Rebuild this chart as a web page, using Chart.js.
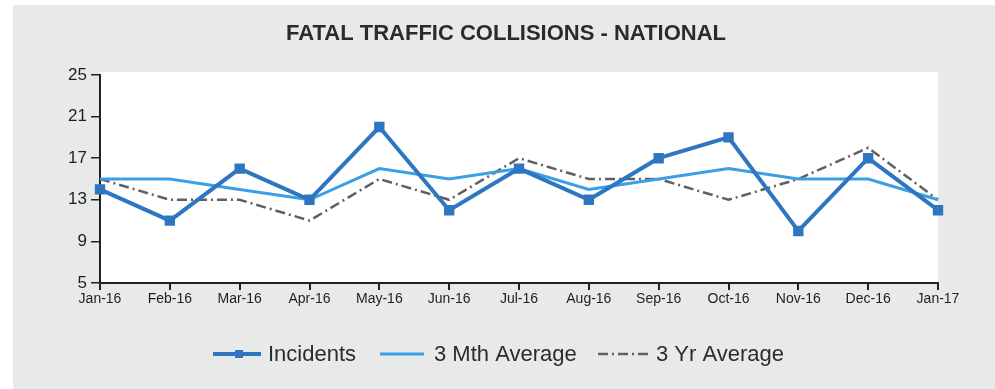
<!DOCTYPE html>
<html>
<head>
<meta charset="utf-8">
<script src="https://cdn.jsdelivr.net/npm/chart.js@4/dist/chart.umd.min.js"></script>
<style>
  html, body { margin: 0; padding: 0; background: #fff; }
  #wrap { position: absolute; left: 13px; top: 5px; width: 982px; height: 384px; background: #e8eae9; }
  canvas { position: absolute; left: -13px; top: -5px; }
</style>
</head>
<body>
<div id="wrap"><canvas id="graph" width="995" height="389"></canvas></div>
<script>
// months on the x axis
const months = ['Jan-16', 'Feb-16', 'Mar-16', 'Apr-16', 'May-16', 'Jun-16', 'Jul-16',
  'Aug-16', 'Sep-16', 'Oct-16', 'Nov-16', 'Dec-16', 'Jan-17'];

// values
const incidents = [14, 11, 16, 13, 20, 12, 16, 13, 17, 19, 10, 17, 12];
const threeMonthAvg = [15, 15, 14, 13, 16, 15, 16, 14, 15, 16, 15, 15, 13];
const threeYearAvg = [15, 13, 13, 11, 15, 13, 17, 15, 15, 13, 15, 18, 13];

const yTicks = [5, 9, 13, 17, 21, 25];
const titleText = 'FATAL TRAFFIC COLLISIONS - NATIONAL';

const FONT = "'Liberation Sans', Arial, sans-serif";

// white plot area, title and legend drawn by hand
const decor = {
  id: 'decor',
  beforeDraw(chart) {
    const {ctx, chartArea: a} = chart;
    ctx.save();
    ctx.fillStyle = '#ffffff';
    ctx.fillRect(a.left, a.top - 3, a.right - a.left, a.bottom - a.top + 3);
    ctx.restore();
  },
  afterDraw(chart) {
    const ctx = chart.ctx;
    ctx.save();
    // title
    ctx.fillStyle = '#2b2b2b';
    ctx.font = 'bold 22px ' + FONT;
    ctx.textAlign = 'center';
    ctx.textBaseline = 'middle';
    ctx.fillText(titleText, 506, 34);

    // legend
    const items = [
      {ds: 0, x1: 213, x2: 261, tx: 268},
      {ds: 1, x1: 380, x2: 424, tx: 434},
      {ds: 2, x1: 598, x2: 648, tx: 656}
    ];
    const y = 354;
    ctx.font = '22px ' + FONT;
    ctx.textAlign = 'left';
    items.forEach(function(it) {
      const d = chart.data.datasets[it.ds];
      ctx.strokeStyle = d.borderColor;
      ctx.lineWidth = d.borderWidth;
      ctx.setLineDash(d.borderDash || []);
      ctx.beginPath();
      ctx.moveTo(it.x1, y);
      ctx.lineTo(it.x2, y);
      ctx.stroke();
      ctx.setLineDash([]);
      if (d.pointRadius > 0) {
        ctx.fillStyle = d.pointBackgroundColor;
        const r = 4;
        const mx = (it.x1 + it.x2) / 2 + 2;
        ctx.fillRect(mx - r, y - r, 2 * r, 2 * r);
      }
      ctx.fillStyle = '#2b2b2b';
      ctx.fillText(d.label, it.tx, y + 1);
    });
    ctx.restore();
  }
};

const chart = new Chart(document.getElementById('graph').getContext('2d'), {
  type: 'line',
  data: {
    labels: months,
    datasets: [
      {
        label: 'Incidents',
        data: incidents,
        borderColor: '#2e76c0',
        backgroundColor: '#2e76c0',
        pointBackgroundColor: '#2e76c0',
        pointBorderColor: '#2e76c0',
        pointStyle: 'rect',
        pointRadius: 4.5,
        borderWidth: 4,
        tension: 0,
        clip: false,
        order: 0
      },
      {
        label: '3 Mth Average',
        data: threeMonthAvg,
        borderColor: '#3a9fe6',
        backgroundColor: '#3a9fe6',
        pointRadius: 0,
        borderWidth: 3,
        tension: 0,
        clip: false,
        order: 1
      },
      {
        label: '3 Yr Average',
        data: threeYearAvg,
        borderColor: '#606060',
        backgroundColor: '#606060',
        borderDash: [10, 4, 2, 4],
        pointRadius: 0,
        borderWidth: 2.5,
        tension: 0,
        clip: false,
        order: 2
      }
    ]
  },
  options: {
    responsive: false,
    animation: false,
    layout: { padding: { left: 0, right: 57, top: 75, bottom: 76 } },
    plugins: {
      legend: { display: false },
      title: { display: false },
      tooltip: { enabled: false }
    },
    scales: {
      x: {
        offset: false,
        afterFit: function(s) { s.height = 30; },
        border: { color: '#222', width: 2 },
        grid: { drawOnChartArea: false, drawTicks: true, tickLength: 7, color: '#222', lineWidth: 2 },
        ticks: { color: '#1e1e1e', font: { family: FONT, size: 14 }, padding: 1, maxRotation: 0, autoSkip: false }
      },
      y: {
        min: 5,
        max: 25,
        afterFit: function(s) { s.width = 100; },
        afterBuildTicks: function(s) { s.ticks = yTicks.map(function(v) { return {value: v}; }); },
        border: { color: '#222', width: 2 },
        grid: { drawOnChartArea: false, drawTicks: true, tickLength: 9, color: '#222', lineWidth: 1.5 },
        ticks: { color: '#1e1e1e', font: { family: FONT, size: 17 }, padding: 4 }
      }
    }
  },
  plugins: [decor]
});
</script>
</body>
</html>
